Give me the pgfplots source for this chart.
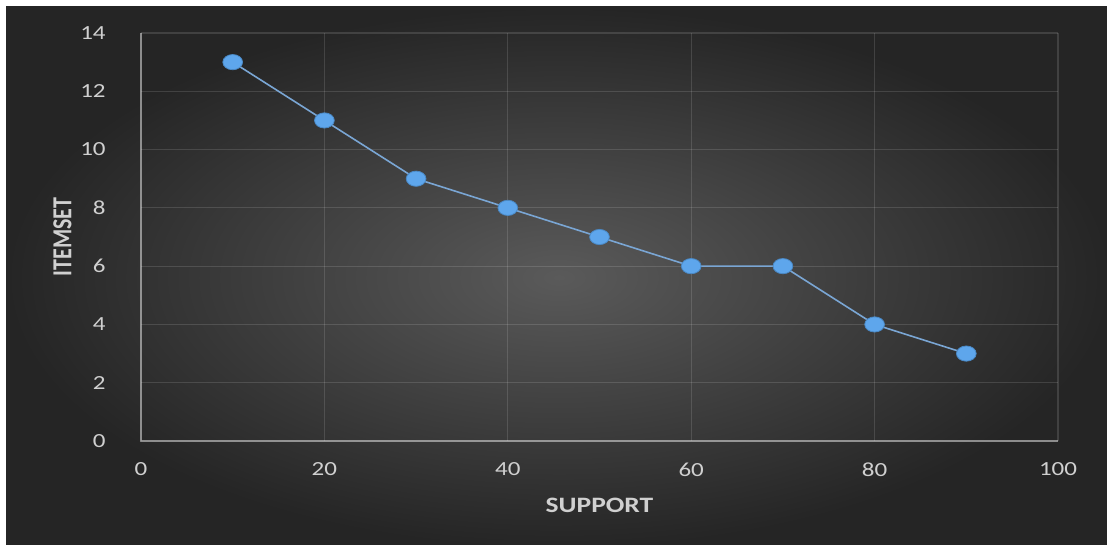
\documentclass[border=0pt]{standalone}
\usepackage{pgfplots}
\pgfplotsset{compat=1.18}
\usepackage{fontspec}
\setmainfont{Carlito}
\definecolor{bgin}{HTML}{5A5A5A}
\definecolor{bgout}{HTML}{252525}
\definecolor{txt}{HTML}{D0D0D0}
\definecolor{lineblue}{HTML}{7AA6D4}
\definecolor{markfill}{HTML}{5EA6EC}
\definecolor{markdraw}{HTML}{4A88C4}
\begin{document}
\begin{tikzpicture}
\fill[white] (0,0) rectangle (830.25pt,408pt);
\shade[inner color=bgin, outer color=bgout] (4.5pt,-3pt) rectangle (834pt,402.75pt);
\begin{axis}[
  at={(105.75pt,77.25pt)}, anchor=south west,
  scale only axis, width=687.75pt, height=306pt,
  xmin=0, xmax=100, ymin=0, ymax=14,
  xtick={0,20,...,100}, ytick={0,2,...,14},
  axis line style={draw=none},
  grid=major,
  major grid style={draw=white, opacity=0.13, line width=0.8pt},
  major tick length=0pt,
  /pgf/number format/assume math mode=true,
  tick label style={font=\fontsize{15}{18}\selectfont, text=txt, inner sep=0pt, xscale=1.25},
  xticklabel style={anchor=center, yshift=-21.4pt},
  yticklabel style={anchor=east, xshift=-21pt},
  xlabel={SUPPORT}, ylabel={ITEMSET},
  label style={font=\fontsize{16.5}{19}\bfseries\selectfont, text=txt},
  xlabel style={at={(axis description cs:0.5,-0.1569)}, anchor=center, xscale=1.25},
  ylabel style={at={(axis description cs:-0.0856,0.5)}, anchor=center, yscale=1.25},
  clip=false,
]
\draw[white, opacity=0.4, line width=1pt] (axis cs:0,14) -- (axis cs:0,0) -- (axis cs:100,0);
\addplot[color=lineblue, line width=1.2pt, mark=*, mark size=5.7pt,
  mark options={xscale=1.3, fill=markfill, draw=markdraw, line width=0.6pt}]
  coordinates {(10,13) (20,11) (30,9) (40,8) (50,7) (60,6) (70,6) (80,4) (90,3)};
\end{axis}
\pgfresetboundingbox
\useasboundingbox (0,0) rectangle (830.25pt,408pt);
\end{tikzpicture}
\end{document}
